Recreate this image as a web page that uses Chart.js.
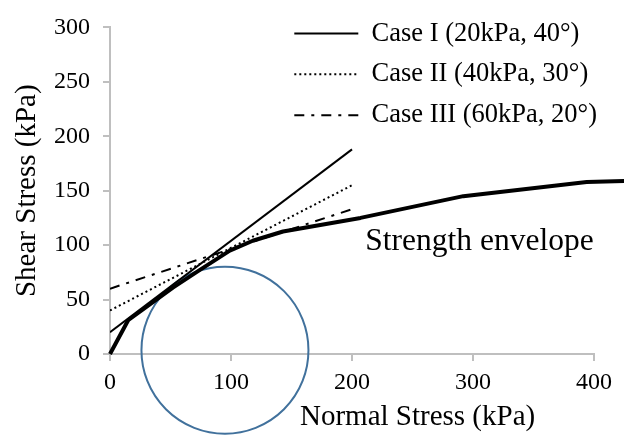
<!DOCTYPE html>
<html>
<head>
<meta charset="utf-8">
<title>Shear stress vs normal stress</title>
<script src="https://cdn.jsdelivr.net/npm/chart.js@4.4.1/dist/chart.umd.min.js"></script>
<style>
  body { margin: 0; background: #fff; }
  #wrap { width: 624px; height: 438px; }
</style>
</head>
<body>
<div id="wrap"><canvas id="mohr"></canvas></div>
<script>
// values, kPa
const caseX = [0, 200];
const caseIY = [20, 188];
const caseIIY = [40, 155];
const caseIIIY = [60, 133];

const envelopeX = [0, 15, 52, 74, 99, 118, 143, 207, 292, 394, 425];
const envelopeY = [0, 31, 61, 77, 95, 104, 112.5, 125, 145, 158, 159];

// centre of the stress circle
const circleX = [95];
const circleY = [3.5];

const caseLabels = ['Case I (20kPa, 40°)', 'Case II (40kPa, 30°)', 'Case III (60kPa, 20°)'];
const xTicks = [0, 100, 200, 300, 400];
const yTicks = [0, 50, 100, 150, 200, 250, 300];

function points(xs, ys) {
    return xs.map((x, i) => ({x: x, y: ys[i]}));
}

Chart.defaults.font.family = '"Liberation Serif", "Times New Roman", serif';
Chart.defaults.color = '#000';

const axisGrey = '#BFBFBF';

const extraText = {
    id: 'extraText',
    afterLayout(chart) {
        // legend sits inside the plot, top right
        const lg = chart.legend;
        const w = lg.width, h = lg.height;
        lg.left = 280;
        lg.top = 6;
        lg.right = lg.left + w;
        lg.bottom = lg.top + h;
    },
    afterDraw(chart) {
        const {ctx, scales: {x, y}} = chart;
        ctx.save();
        ctx.fillStyle = '#000';
        ctx.textBaseline = 'alphabetic';
        ctx.textAlign = 'left';
        ctx.font = '31.5px "Liberation Serif"';
        ctx.fillText('Strength envelope', x.getPixelForValue(211), y.getPixelForValue(95.5));
        ctx.font = '29px "Liberation Serif"';
        ctx.fillText('Normal Stress (kPa)', 300, x.bottom - 13);
        ctx.restore();
    }
};

const config = {
    type: 'line',
    data: {
        datasets: [{
            label: caseLabels[0],
            data: points(caseX, caseIY),
            borderColor: '#000',
            borderWidth: 2,
            pointRadius: 0
        }, {
            label: caseLabels[1],
            data: points(caseX, caseIIY),
            borderColor: '#000',
            borderWidth: 2,
            borderDash: [2, 3],
            pointRadius: 0
        }, {
            label: caseLabels[2],
            data: points(caseX, caseIIIY),
            borderColor: '#000',
            borderWidth: 2,
            borderDash: [10, 7, 3, 7],
            pointRadius: 0
        }, {
            label: 'Strength envelope',
            data: points(envelopeX, envelopeY),
            borderColor: '#000',
            borderWidth: 4,
            borderJoinStyle: 'round',
            pointRadius: 0,
            clip: false
        }, {
            label: 'Stress circle',
            data: points(circleX, circleY),
            showLine: false,
            pointRadius: 83.5,
            pointBorderColor: '#41719C',
            pointBackgroundColor: 'rgba(0,0,0,0)',
            pointBorderWidth: 2,
            clip: false
        }]
    },
    options: {
        responsive: true,
        maintainAspectRatio: false,
        animation: false,
        events: [],
        layout: {
            autoPadding: false,
            padding: {top: 20, right: 30, bottom: 0, left: 0}
        },
        plugins: {
            tooltip: {enabled: false},
            legend: {
                position: 'chartArea',
                align: 'start',
                labels: {
                    usePointStyle: true,
                    pointStyle: 'line',
                    pointStyleWidth: 64,
                    padding: 14.3,
                    font: {size: 26.5},
                    color: '#000',
                    filter: item => item.datasetIndex < 3,
                    generateLabels(chart) {
                        const items = Chart.defaults.plugins.legend.labels.generateLabels(chart);
                        items.forEach(item => {
                            const ds = chart.data.datasets[item.datasetIndex];
                            item.lineDash = ds.borderDash || [];
                            item.lineWidth = ds.borderWidth;
                            item.strokeStyle = ds.borderColor;
                        });
                        return items;
                    }
                }
            }
        },
        scales: {
            x: {
                type: 'linear',
                min: 0,
                max: 400,
                afterBuildTicks: axis => { axis.ticks = xTicks.map(v => ({value: v})); },
                afterFit: axis => { axis.height = 84; },
                border: {color: axisGrey, width: 2},
                grid: {drawOnChartArea: false, color: axisGrey, lineWidth: 2, tickLength: 7},
                ticks: {font: {size: 24}, padding: 7, maxRotation: 0, autoSkip: false}
            },
            y: {
                min: 0,
                max: 300,
                afterBuildTicks: axis => { axis.ticks = yTicks.map(v => ({value: v})); },
                afterFit: axis => { axis.width = 110; },
                border: {color: axisGrey, width: 2},
                grid: {drawOnChartArea: false, color: axisGrey, lineWidth: 2, tickLength: 7},
                ticks: {font: {size: 24}, padding: 13},
                title: {
                    display: true,
                    text: 'Shear Stress (kPa)',
                    font: {size: 29},
                    padding: {top: 10, bottom: 0}
                }
            }
        }
    },
    plugins: [extraText]
};

const chart = new Chart(document.getElementById('mohr'), config);
</script>
</body>
</html>
